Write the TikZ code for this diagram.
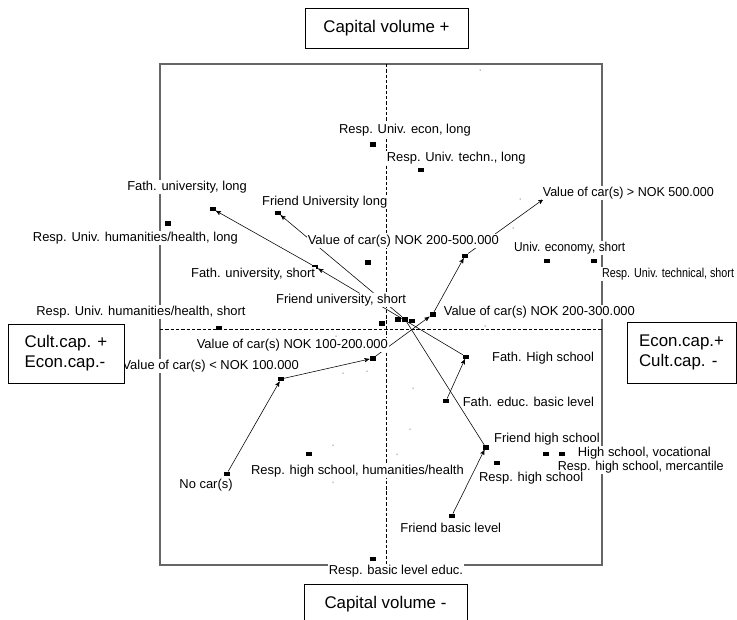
\documentclass[tikz,border=0pt]{standalone}
\usepackage{fontspec}
\setmainfont{Liberation Sans}
\usetikzlibrary{arrows}

\tikzset{
  sq/.style={fill=black, inner sep=0pt, minimum width=0.145cm, minimum height=0.11cm},
  lbl/.style={fill=white, inner sep=0.6pt, font=\fontsize{9.2}{11}\selectfont},
  capbox/.style={draw, thin, fill=white, font=\fontsize{12}{14.2}\selectfont},
  trail/.style={thin, -stealth'},
  axisline/.style={thin, dash pattern=on 2.4pt off 1.4pt},
}

\begin{document}
\begin{tikzpicture}[x=0.025cm, y=-0.025cm]
    \useasboundingbox (0,0) rectangle (737,619);
    \draw[black!60, line width=0.9pt] (160,64) rectangle (602,565);
    \draw[axisline] (386,64) -- (386,565);
    \draw[axisline] (160,329) -- (602,329);

    \node[sq] (ruEconL) at (372.7,144.3) {};
    \node[sq] (ruTechL) at (420.7,170) {};
    \node[sq] (fathUL) at (212.7,209) {};
    \node[sq] (ruHumL) at (168.3,223.3) {};
    \node[sq] (friendUL) at (277.7,212.7) {};
    \coordinate (car500) at (543.3,199.3);
    \node[sq] (carMid) at (368.3,262.3) {};
    \node[sq] (fathUS) at (315,266.7) {};
    \node[sq] (uEconS) at (547,261) {};
    \node[sq] (ruTechS) at (594,261) {};
    \node[sq] (car200500) at (465,255.7) {};
    \node[sq] (car200300) at (432.7,314.3) {};
    \node[sq] (ctrA) at (381.7,323.3) {};
    \node[sq] (ctrB) at (398.3,319.3) {};
    \node[sq] (friendUS) at (405,319.3) {};
    \node[sq] (ctrC) at (412.3,321) {};
    \node[sq] (ruHumS) at (219,327.7) {};
    \node[sq] (car100200) at (372.7,358.3) {};
    \node[sq] (car100) at (281,379) {};
    \node[sq] (nocar) at (226.7,474) {};
    \node[sq] (rhsHum) at (309,454) {};
    \node[sq] (fathHS) at (466,356.7) {};
    \node[sq] (fathBasic) at (446,401) {};
    \node[sq] (friendHS) at (485.7,447.3) {};
    \node[sq] (rhs) at (496.7,462.7) {};
    \node[sq] (rhsMerc) at (546,453.7) {};
    \node[sq] (hsVoc) at (562,453.7) {};
    \node[sq] (friendBasic) at (451.7,516) {};
    \node[sq] (rBasic) at (373.3,559) {};

    \foreach \px/\py in {480/70, 520/199, 513/228, 343/373, 367/371, 413/388,
        410/429, 397/454, 333/445, 333/482, 336/336, 485/326}
      \fill (\px,\py) circle (0.5);

    \draw[trail] (nocar) -- (car100);
    \draw[trail] (car100) -- (car100200);
    \draw[trail] (car100200) -- (car200300);
    \draw[trail] (car200300) -- (car200500);
    \draw[trail] (car200500) -- (car500);
    \draw[trail] (fathBasic) -- (fathHS);
    \draw[trail] (fathHS) -- (fathUS);
    \draw[trail] (fathUS) -- (fathUL);
    \draw[trail] (friendBasic) -- (friendHS);
    \draw[thin] (friendHS) -- (friendUS);
    \draw[trail] (friendUS) -- (friendUL);

    \node[lbl, anchor=west] (tRuEconL) at (338,130) {Resp. Univ. econ, long};
    \node[lbl, anchor=west] (tRuTechL) at (385.7,158) {Resp. Univ. techn., long};
    \node[lbl, anchor=east] (tFathUL) at (248,187) {Fath. university, long};
    \node[lbl, anchor=west] (tFriendUL) at (261,202) {Friend University long};
    \node[lbl, anchor=west] (tCar500) at (541.7,192.7) {\scalebox{0.97}[1]{Value of car(s) > NOK 500.000}};
    \node[lbl, anchor=east] (tRuHumL) at (239,237.7) {Resp. Univ. humanities/health, long};
    \node[lbl, anchor=west] (tCar200500) at (306.7,240.7) {Value of car(s) NOK 200-500.000};
    \node[lbl, anchor=west] (tUEconS) at (513,248.3) {\scalebox{0.92}[1]{Univ. economy, short}};
    \node[lbl, anchor=west] (tRuTechS) at (601,274) {\scalebox{0.83}[1]{Resp. Univ. technical, short}};
    \node[lbl, anchor=west] (tFathUS) at (190,274) {Fath. university, short};
    \node[lbl, anchor=west] (tFriendUS) at (275,300) {Friend university, short};
    \node[lbl, anchor=east] (tRuHumS) at (246.7,312.3) {Resp. Univ. humanities/health, short};
    \node[lbl, anchor=west] (tCar200300) at (442.7,312.3) {Value of car(s) NOK 200-300.000};
    \node[lbl, anchor=west] (tCar100200) at (195.7,345) {Value of car(s) NOK 100-200.000};
    \node[lbl, anchor=west] (tFathHS) at (491,358.3) {Fath. High school};
    \node[lbl, anchor=east] (tCar100) at (300,365.7) {Value of car(s) < NOK 100.000};
    \node[lbl, anchor=west] (tFathBasic) at (461.7,401.7) {Fath. educ. basic level};
    \node[lbl, anchor=west] (tFriendHS) at (493,439.3) {Friend high school};
    \node[lbl, anchor=west] (tHsVoc) at (576.7,452.7) {High school, vocational};
    \node[lbl, anchor=west] (tRhsMerc) at (556.7,466.7) {\scalebox{0.97}[1]{Resp. high school, mercantile}};
    \node[lbl, anchor=west] (tRhsHum) at (250,471) {Resp. high school, humanities/health};
    \node[lbl, anchor=west] (tRhs) at (478,478.3) {Resp. high school};
    \node[lbl, anchor=west] (tNocar) at (178.3,485) {No car(s)};
    \node[lbl, anchor=west] (tFriendBasic) at (399.3,528.3) {Friend basic level};
    \node[lbl, anchor=west] (tRBasic) at (327.7,570.7) {Resp. basic level educ.};

    \node[capbox, minimum width=4.075cm, minimum height=1cm] (volPlus) at (386.5,28) {Capital volume +};
    \node[capbox, minimum width=4.075cm, minimum height=1cm] (volMinus) at (385.5,604) {Capital volume -};
    \node[capbox, align=left, minimum width=2.9cm, minimum height=1.475cm] (cultPlus) at (66,353.5) {Cult.cap. +\\Econ.cap.-};
    \node[capbox, align=left, minimum width=2.725cm, minimum height=1.525cm] (econPlus) at (681.5,352.5) {Econ.cap.+\\Cult.cap. -};
\end{tikzpicture}
\end{document}
